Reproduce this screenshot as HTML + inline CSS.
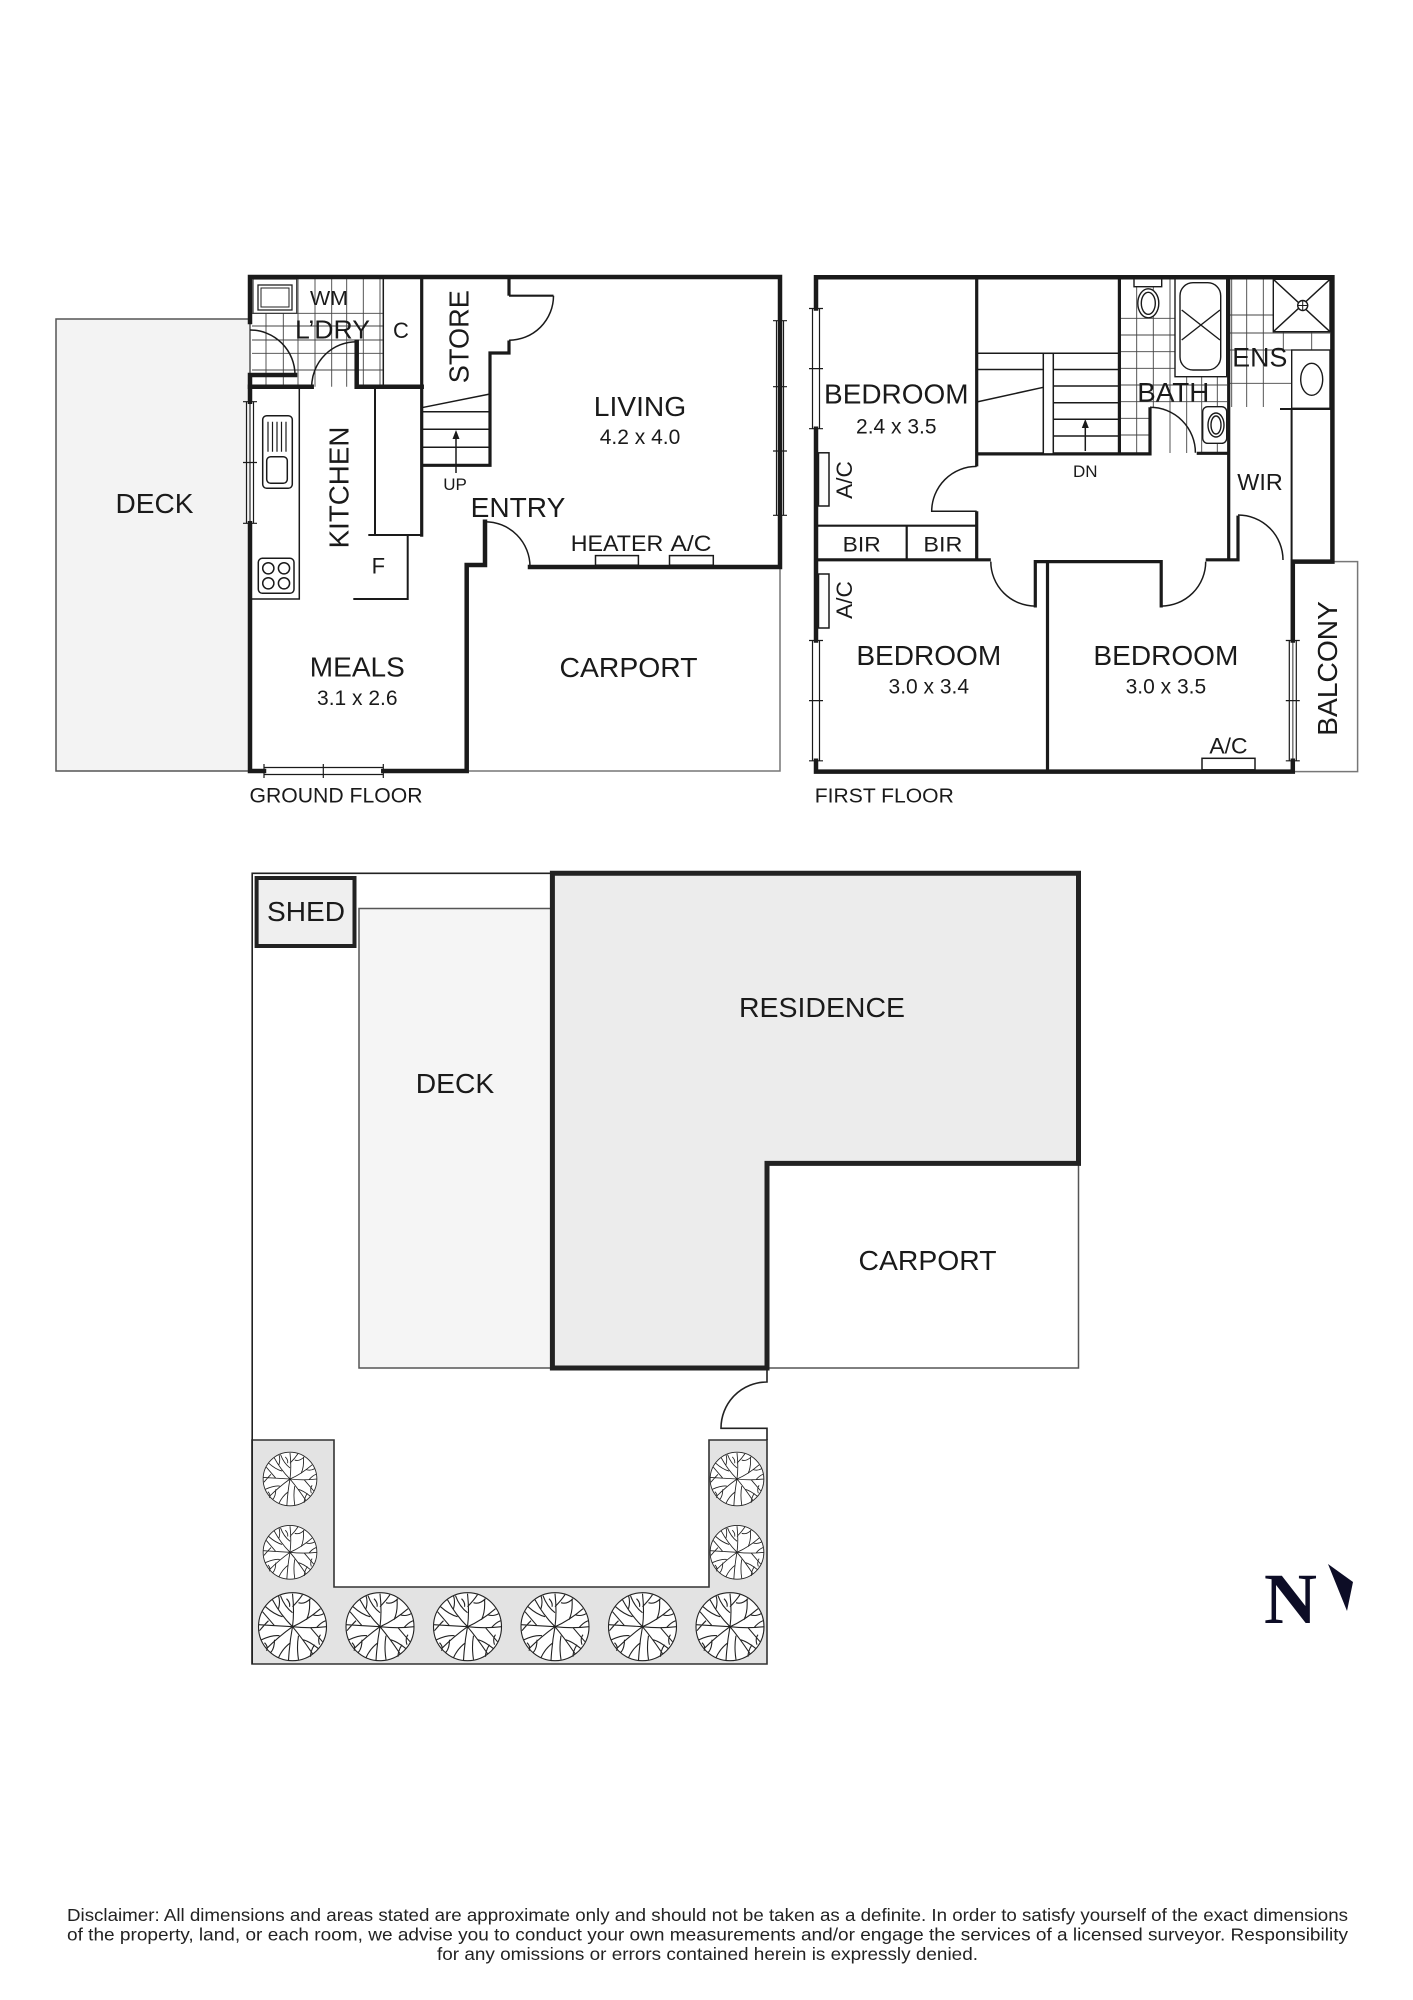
<!DOCTYPE html>
<html><head><meta charset="utf-8"><style>
html,body{margin:0;padding:0;background:#fff;}
svg{display:block;}
text{font-family:"Liberation Sans",Arial,sans-serif;fill:#1a1a1a;}
</style></head><body>
<svg xmlns="http://www.w3.org/2000/svg" xmlns:xlink="http://www.w3.org/1999/xlink" width="1413" height="2000" viewBox="0 0 1413 2000">
<defs>
<g id="tree" fill="none" stroke="#222" stroke-width="1.1">
<circle r="34" fill="#fff"/>
<path d="M0,0 Q2,-15 0,-33 M0,-14 Q-8,-20 -12,-31 M0,-20 Q6,-26 10,-32 M0,0 Q14,-6 28,-18 M14,-7 Q18,-15 17,-28 M20,-12 Q26,-10 31,-13 M0,0 Q17,2 34,0 M18,1 Q24,8 30,15 M24,1 Q28,-4 33,-6 M0,0 Q10,12 20,27 M10,13 Q16,14 26,22 M6,9 Q4,20 6,33 M0,0 Q-3,16 -4,34 M-2,16 Q-10,22 -14,31 M0,0 Q-14,10 -26,22 M-13,9 Q-20,8 -31,13 M-18,13 Q-18,22 -22,26 M0,0 Q-16,-1 -34,-2 M-18,-1 Q-24,-8 -30,-15 M0,0 Q-12,-12 -20,-27 M-10,-10 Q-18,-12 -27,-20 M-14,-18 Q-12,-25 -14,-31 M6,-24 Q12,-22 18,-28 M-24,-6 Q-28,-2 -33,4 M22,18 Q18,24 18,30 M-6,-28 Q-2,-24 -3,-20 M28,8 Q25,12 27,18 M-28,16 Q-24,20 -26,24"/>
</g>
</defs>

<!-- ================= GROUND FLOOR ================= -->
<rect x="56" y="319" width="194" height="452" fill="#f3f3f3" stroke="#555" stroke-width="1.5"/>
<path d="M466.7,771 H780 V567" fill="none" stroke="#777" stroke-width="1.5"/>

<!-- laundry tiles -->
<g stroke="#444" stroke-width="0.9" fill="none">
<path d="M298,277 V386.7 M315,277 V386.7 M331.7,277 V386.7 M346.7,277 V386.7 M363.3,277 V386.7 M380,277 V386.7 M283.3,313.3 V386.7 M266,313.3 V386.7"/>
<path d="M252,313.3 H383.3 M252,326 H383.3 M252,340 H383.3 M252,353.3 H383.3 M252,370 H383.3"/>
</g>
<rect x="253" y="279" width="43.7" height="34.3" fill="#fff" stroke="#333" stroke-width="1.2"/>
<rect x="258" y="285" width="34" height="25" fill="#fff" stroke="#222" stroke-width="1.3"/>
<rect x="261" y="288" width="28" height="19" fill="none" stroke="#222" stroke-width="1"/>

<g fill="none" stroke="#1a1a1a" stroke-width="4.5" stroke-linecap="square">
<path d="M250,322 V277 H780 V567 H530"/>
<path d="M485,521.7 V565 H466.7 V771 H383.3"/>
<path d="M264,771 H250 V523.3"/>
<path d="M250,401.7 V375 H295"/>
<path d="M250,386.7 H311.7"/>
<path d="M356.7,341.7 V386.7 H421.7"/>
</g>
<g fill="none" stroke="#1a1a1a" stroke-width="3.2">
<path d="M421.7,277 V536.7"/>
<path d="M509,277 V295.7"/>
<path d="M509,340.5 V353 H490 V465.3 H421.7"/>
</g>
<g fill="none" stroke="#1a1a1a" stroke-width="1.5">
<path d="M383.3,277 V386.7"/>
<path d="M509,295.7 H553.5" stroke-width="2.2"/>
<path d="M553.5,295.7 A44.5,44.5 0 0,1 509,340.2"/>
<path d="M421.7,407.7 L490,394 M421.7,411.7 H490 M421.7,429.3 H490 M421.7,447.3 H490"/>
<path d="M456,473 V437"/>
<path d="M299.3,386.7 V599 H250"/>
<path d="M375,386.7 V535 M368.3,535 H421.7" stroke-width="2"/>
<path d="M407.7,535 V599 H353.3" stroke-width="2"/>
<path d="M485,521.7 A45,45 0 0,1 530,566.7"/>
<path d="M250,330 A45,45 0 0,1 295,375"/>
<path d="M356.7,341.7 A45,45 0 0,0 311.7,386.7"/>
<!-- sink -->
<rect x="262.7" y="415.7" width="29.6" height="72.6" rx="4" fill="#fff"/>
<path d="M268,421.7 V451.7 M272.5,421.7 V451.7 M277,421.7 V451.7 M281.5,421.7 V451.7 M286,421.7 V451.7" stroke-width="1.2"/>
<rect x="266.7" y="456.7" width="20.6" height="26.6" rx="4"/>
<!-- cooktop -->
<rect x="258.3" y="558.3" width="35.7" height="35" rx="4" fill="#fff"/>
<circle cx="268.3" cy="568.3" r="5.6"/><circle cx="284" cy="568.3" r="5.6"/>
<circle cx="268.3" cy="583.3" r="5.6"/><circle cx="284" cy="583.3" r="5.6"/>
<!-- windows -->
<path d="M246.5,401.7 V523.3 M253.5,401.7 V523.3 M243,401.7 H257 M243,462.5 H257 M243,523.3 H257" stroke-width="1.2"/>
<path d="M264,767.5 H383.3 M264,774.5 H383.3 M264,764 V778 M323.3,764 V778 M383.3,764 V778" stroke-width="1.2"/>
<path d="M776.5,320.7 V515.3 M783.5,320.7 V515.3 M773,320.7 H787 M773,386.7 H787 M773,451 H787 M773,515.3 H787" stroke-width="1.2"/>
<rect x="595.5" y="555.6" width="42.9" height="9.6" fill="#fff"/>
<rect x="669.5" y="555.6" width="43.8" height="9.6" fill="#fff"/>
</g>
<polygon points="456,430 452.5,439 459.5,439" fill="#1a1a1a"/>

<text x="329" y="305" font-size="20" text-anchor="middle" textLength="38" lengthAdjust="spacingAndGlyphs">WM</text>
<text x="332.5" y="338.3" font-size="26" text-anchor="middle" textLength="75" lengthAdjust="spacingAndGlyphs">L’DRY</text>
<text x="401" y="338" font-size="22" text-anchor="middle">C</text>
<text transform="translate(468.3,336.7) rotate(-90)" font-size="28" text-anchor="middle" textLength="93" lengthAdjust="spacingAndGlyphs">STORE</text>
<text transform="translate(348.3,487.5) rotate(-90)" font-size="28" text-anchor="middle" textLength="121.7" lengthAdjust="spacingAndGlyphs">KITCHEN</text>
<text x="640" y="416" font-size="28" text-anchor="middle" textLength="92.5" lengthAdjust="spacingAndGlyphs">LIVING</text>
<text x="640" y="444" font-size="21" text-anchor="middle">4.2 x 4.0</text>
<text x="455" y="490" font-size="17" text-anchor="middle">UP</text>
<text x="518" y="517" font-size="28" text-anchor="middle" textLength="94.6" lengthAdjust="spacingAndGlyphs">ENTRY</text>
<text x="617" y="551" font-size="22" text-anchor="middle" textLength="92.5" lengthAdjust="spacingAndGlyphs">HEATER</text>
<text x="691" y="551" font-size="22" text-anchor="middle" textLength="41" lengthAdjust="spacingAndGlyphs">A/C</text>
<text x="378.3" y="573.3" font-size="22" text-anchor="middle">F</text>
<text x="154.5" y="512.8" font-size="28" text-anchor="middle" textLength="78" lengthAdjust="spacingAndGlyphs">DECK</text>
<text x="357.3" y="676.7" font-size="28" text-anchor="middle" textLength="95" lengthAdjust="spacingAndGlyphs">MEALS</text>
<text x="357.3" y="705" font-size="21" text-anchor="middle">3.1 x 2.6</text>
<text x="628.5" y="677" font-size="28" text-anchor="middle" textLength="138" lengthAdjust="spacingAndGlyphs">CARPORT</text>
<text x="336" y="802.5" font-size="21" text-anchor="middle" textLength="173" lengthAdjust="spacingAndGlyphs">GROUND FLOOR</text>

<!-- ================= FIRST FLOOR ================= -->
<rect x="1292.8" y="561.6" width="64.8" height="210" fill="none" stroke="#777" stroke-width="1.5"/>
<!-- bath tiles -->
<g stroke="#444" stroke-width="0.9" fill="none">
<path d="M1136.7,277 V453 M1153.3,277 V407 M1170,277 V453 M1186.7,277 V453 M1201.7,277 V453 M1217.3,277 V453"/>
<path d="M1119.4,318.3 H1227 M1119.4,335 H1227 M1119.4,351.7 H1227 M1119.4,368.3 H1227 M1119.4,385 H1227 M1119.4,401.7 H1227 M1119.4,418.3 H1150 M1119.4,435 H1150"/>
<path d="M1231.7,277 V407 M1246.7,277 V407 M1263.3,277 V407 M1283.3,331.7 V350 M1311.7,331.7 V350"/>
<path d="M1228.7,315 H1330 M1228.7,333 H1330 M1228.7,350 H1291.7 M1228.7,383.3 H1291.7"/>
</g>
<g fill="#fff" stroke="#1a1a1a" stroke-width="1.4">
<rect x="1134" y="278" width="27.7" height="8.7"/>
<ellipse cx="1148.3" cy="303.3" rx="10.5" ry="14.5"/>
<ellipse cx="1148.3" cy="303.3" rx="7" ry="11" fill="none"/>
<rect x="1175" y="278.3" width="51.7" height="98.4"/>
<rect x="1180" y="282.7" width="40.7" height="87.3" rx="13"/>
<path d="M1181.7,310 L1220,340 M1220,310 L1181.7,340" fill="none"/>
<rect x="1202.7" y="406.7" width="24" height="36.6" rx="5"/>
<ellipse cx="1216" cy="425" rx="8" ry="12"/>
<ellipse cx="1216" cy="425" rx="5" ry="9" fill="none"/>
<rect x="1273.3" y="279.3" width="56.7" height="52.4"/>
<path d="M1273.3,279.3 L1330,331.7 M1330,279.3 L1273.3,331.7" fill="none"/>
<circle cx="1302.7" cy="305.5" r="5"/>
<path d="M1297.7,305.5 H1307.7 M1302.7,300.5 V310.5" fill="none" stroke-width="1"/>
<rect x="1291.7" y="350" width="38.3" height="58.3"/>
<ellipse cx="1311.7" cy="379.3" rx="11" ry="16"/>
</g>

<g fill="none" stroke="#1a1a1a" stroke-width="4.5" stroke-linecap="square">
<path d="M816,308.5 V277.2 H1332.4 V561.6 H1292.8 V640.5"/>
<path d="M1292.8,760.8 V771.6 H816 V760.8"/>
<path d="M816,640.5 V428.7"/>
</g>
<g fill="none" stroke="#1a1a1a" stroke-width="3.2">
<path d="M976.7,277.2 V466.4 M976.7,511.3 V559.8"/>
<path d="M816,559.8 H990.8"/>
<path d="M1035.3,607.5 V561.6 H1161.2 V607.5"/>
<path d="M1047.5,561.6 V771.6"/>
<path d="M1205.7,559.8 H1238 V515.6"/>
<path d="M1228.7,277.2 V559.8"/>
<path d="M1119.4,277.2 V453.9"/>
<path d="M976.7,453.9 H1150 V407.3"/>
<path d="M1196.7,453.3 H1228.7"/>
</g>
<g fill="none" stroke="#1a1a1a" stroke-width="1.5">
<path d="M1291.6,409 V560 M1280,409 H1332" stroke-width="2"/>
<path d="M816,525.7 H976.7 M906.7,525.7 V559.8" stroke-width="2.2"/>
<path d="M976.7,466.4 A45,45 0 0,0 931.7,511.3 H976.7"/>
<path d="M990.8,561.6 A44.5,44.5 0 0,0 1035.3,606.1"/>
<path d="M1161.2,606.1 A44.5,44.5 0 0,0 1205.7,561.6"/>
<path d="M1238,515 A45,45 0 0,1 1283,560"/>
<path d="M1150,407.3 A45.4,45.4 0 0,1 1195.4,452.7"/>
<!-- stairs -->
<path d="M976.7,353.3 H1119.4 M976.7,369.5 H1043.3 M1053.3,369.5 H1119.4 M1053.3,386 H1119.4 M1053.3,402.7 H1119.4 M1053.3,419.3 H1119.4 M1053.3,436 H1119.4"/>
<path d="M976.7,402 L1043.3,387.3"/>
<rect x="1043.3" y="353.3" width="10" height="100.6" fill="#fff"/>
<path d="M1085.3,451 V425"/>
<!-- windows -->
<path d="M812.5,308.5 V428.7 M819.5,308.5 V428.7 M809,308.5 H823 M809,368.6 H823 M809,428.7 H823" stroke-width="1.2"/>
<path d="M812.5,640.5 V760.8 M819.5,640.5 V760.8 M809,640.5 H823 M809,700.6 H823 M809,760.8 H823" stroke-width="1.2"/>
<path d="M1289.3,640.5 V760.8 M1296.3,640.5 V760.8 M1285.8,640.5 H1299.8 M1285.8,700.6 H1299.8 M1285.8,760.8 H1299.8" stroke-width="1.2"/>
<rect x="818.5" y="452.8" width="10.5" height="53.2" fill="#fff"/>
<rect x="818.5" y="574" width="10.5" height="54" fill="#fff"/>
<rect x="1202" y="758.3" width="53" height="11.5" fill="#fff"/>
</g>
<polygon points="1085.3,419 1081.8,428 1088.8,428" fill="#1a1a1a"/>

<text x="896.3" y="403.6" font-size="28" text-anchor="middle" textLength="144.5" lengthAdjust="spacingAndGlyphs">BEDROOM</text>
<text x="896.3" y="433.4" font-size="21" text-anchor="middle">2.4 x 3.5</text>
<text transform="translate(852,480) rotate(-90)" font-size="22" text-anchor="middle" textLength="37.7" lengthAdjust="spacingAndGlyphs">A/C</text>
<text x="861.7" y="551.5" font-size="21" text-anchor="middle" textLength="38" lengthAdjust="spacingAndGlyphs">BIR</text>
<text x="942.9" y="551.5" font-size="21" text-anchor="middle" textLength="39" lengthAdjust="spacingAndGlyphs">BIR</text>
<text transform="translate(852,600) rotate(-90)" font-size="22" text-anchor="middle" textLength="37.7" lengthAdjust="spacingAndGlyphs">A/C</text>
<text x="928.8" y="665" font-size="28" text-anchor="middle" textLength="144.9" lengthAdjust="spacingAndGlyphs">BEDROOM</text>
<text x="928.8" y="693.5" font-size="21" text-anchor="middle">3.0 x 3.4</text>
<text x="1165.9" y="665" font-size="28" text-anchor="middle" textLength="144.9" lengthAdjust="spacingAndGlyphs">BEDROOM</text>
<text x="1165.9" y="693.5" font-size="21" text-anchor="middle">3.0 x 3.5</text>
<text x="1228.5" y="753.6" font-size="22" text-anchor="middle" textLength="38.2" lengthAdjust="spacingAndGlyphs">A/C</text>
<text transform="translate(1337,668.4) rotate(-90)" font-size="28" text-anchor="middle" textLength="134.7" lengthAdjust="spacingAndGlyphs">BALCONY</text>
<text x="1173.3" y="401.7" font-size="27" text-anchor="middle" textLength="72" lengthAdjust="spacingAndGlyphs">BATH</text>
<text x="1259.8" y="366.7" font-size="27" text-anchor="middle" textLength="55" lengthAdjust="spacingAndGlyphs">ENS</text>
<text x="1260" y="490" font-size="23" text-anchor="middle" textLength="45.4" lengthAdjust="spacingAndGlyphs">WIR</text>
<text x="1085.3" y="477" font-size="17" text-anchor="middle">DN</text>
<text x="814.8" y="802.5" font-size="20" textLength="139" lengthAdjust="spacingAndGlyphs">FIRST FLOOR</text>

<!-- ================= SITE PLAN ================= -->
<path d="M252,1440 H334 V1587 H709 V1440 H767 V1664 H252 Z" fill="#e3e3e3" stroke="#333" stroke-width="1.6"/>
<g fill="none" stroke="#222" stroke-width="1.6">
<path d="M552.4,873.3 H252.2 V1664"/>
<path d="M767,1368 V1382 A46,46 0 0,0 721,1428.3 H767 V1440"/>
</g>
<rect x="359" y="908.5" width="193.4" height="459.5" fill="#f5f5f5" stroke="#555" stroke-width="1.5"/>
<rect x="767" y="1163.4" width="311.5" height="204.6" fill="#fff" stroke="#555" stroke-width="1.5"/>
<path d="M552.4,873.3 H1078.5 V1163.4 H767 V1368 H552.4 Z" fill="#ececec" stroke="#222" stroke-width="5"/>
<rect x="256.6" y="878" width="97.9" height="68" fill="#efefef" stroke="#222" stroke-width="4"/>

<use xlink:href="#tree" transform="translate(290,1479) scale(0.79)"/>
<use xlink:href="#tree" transform="translate(290,1552.3) scale(0.79)"/>
<use xlink:href="#tree" transform="translate(737,1479) scale(0.79)"/>
<use xlink:href="#tree" transform="translate(737,1552.3) scale(0.79)"/>
<use xlink:href="#tree" transform="translate(292.5,1626.7)"/>
<use xlink:href="#tree" transform="translate(380,1626.7)"/>
<use xlink:href="#tree" transform="translate(467.5,1626.7)"/>
<use xlink:href="#tree" transform="translate(555,1626.7)"/>
<use xlink:href="#tree" transform="translate(642.5,1626.7)"/>
<use xlink:href="#tree" transform="translate(730,1626.7)"/>

<text x="306" y="921" font-size="28" text-anchor="middle" textLength="78" lengthAdjust="spacingAndGlyphs">SHED</text>
<text x="455" y="1093" font-size="28" text-anchor="middle" textLength="78.5" lengthAdjust="spacingAndGlyphs">DECK</text>
<text x="822" y="1017" font-size="28" text-anchor="middle" textLength="166" lengthAdjust="spacingAndGlyphs">RESIDENCE</text>
<text x="927.5" y="1270" font-size="28" text-anchor="middle" textLength="138" lengthAdjust="spacingAndGlyphs">CARPORT</text>

<!-- North -->
<text x="1264" y="1623" font-size="72" font-weight="bold" style="font-family:'Liberation Serif',serif;fill:#0d0d26" textLength="53" lengthAdjust="spacingAndGlyphs">N</text>
<polygon points="1328,1564 1353,1582 1347,1611" fill="#0d0d26"/>

<!-- Disclaimer -->
<text x="67" y="1921" font-size="17.5" textLength="1281" lengthAdjust="spacingAndGlyphs" style="fill:#222">Disclaimer: All dimensions and areas stated are approximate only and should not be taken as a definite. In order to satisfy yourself of the exact dimensions</text>
<text x="67" y="1940.5" font-size="17.5" textLength="1281" lengthAdjust="spacingAndGlyphs" style="fill:#222">of the property, land, or each room, we advise you to conduct your own measurements and/or engage the services of a licensed surveyor. Responsibility</text>
<text x="437" y="1960" font-size="17.5" textLength="541" lengthAdjust="spacingAndGlyphs" style="fill:#222">for any omissions or errors contained herein is expressly denied.</text>
</svg>
</body></html>
